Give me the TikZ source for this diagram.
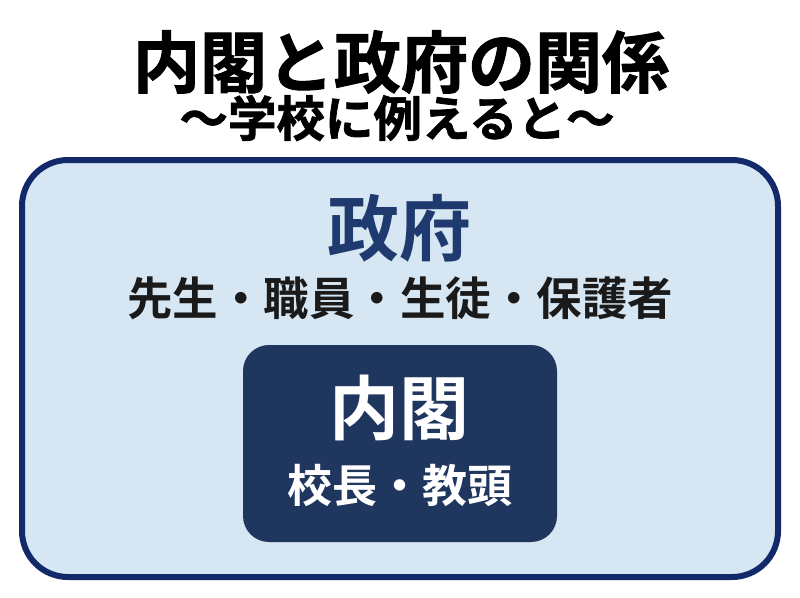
\documentclass[tikz,border=0pt]{standalone}
\usepackage{fontspec}
\newfontfamily\cjk{Noto Sans CJK JP}[BoldFont={Noto Sans CJK JP Bold}]
\newfontfamily\cjkheavy{Noto Sans CJK JP}[BoldFont={Noto Sans CJK JP Bold},BoldFeatures={FakeBold=1.5}]
\definecolor{navyline}{HTML}{132A6A}
\definecolor{paleblue}{HTML}{D6E6F3}
\definecolor{innernavy}{HTML}{1F365F}
\definecolor{headnavy}{HTML}{1F3A6E}
\definecolor{darktext}{HTML}{1A1A1A}
\begin{document}
\begin{tikzpicture}[x=1pt,y=-1pt,
  txt/.style={inner sep=0pt,anchor=center,font=\cjk\bfseries}]
\useasboundingbox (0,0) rectangle (800,597);
\fill[white] (0,0) rectangle (800,597);
\node[txt,font=\cjkheavy\bfseries\fontsize{67}{72}\selectfont,text=black] (title) at (401,62) {内閣と政府の関係};
\node[txt,font=\cjkheavy\bfseries\fontsize{48.5}{54}\selectfont,text=black] (sub) at (397,118) {～学校に例えると～};
\draw[line width=6pt,draw=navyline,fill=paleblue,rounded corners=46pt] (22,160) rectangle (778,577);
\node[txt,font=\cjk\bfseries\fontsize{72}{78}\selectfont,text=headnavy] (gov) at (399,228) {政府};
\node[txt,font=\cjk\bfseries\fontsize{45.5}{50}\selectfont,text=darktext] (members) at (400,298) {先生・職員・生徒・保護者};
\fill[innernavy,rounded corners=26pt] (243,345) rectangle (557,542);
\node[txt,font=\cjk\bfseries\fontsize{70}{76}\selectfont,text=white] (cab) at (399,408) {内閣};
\node[txt,font=\cjk\bfseries\fontsize{45}{50}\selectfont,text=white] (heads) at (400,485) {校長・教頭};
\end{tikzpicture}
\end{document}
